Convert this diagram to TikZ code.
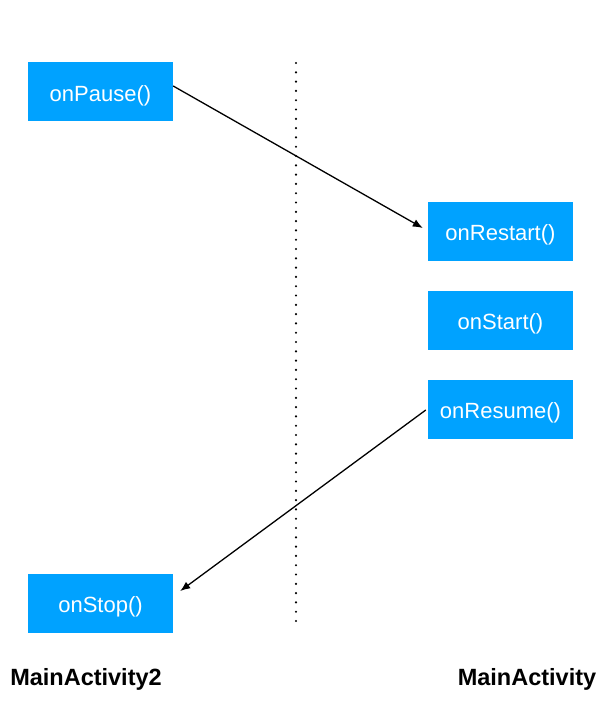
\documentclass[tikz,border=0pt]{standalone}
\usepackage{fontspec}
\setmainfont{Liberation Sans}
\usetikzlibrary{arrows.meta}
\definecolor{callblue}{HTML}{00A2FF}
\begin{document}
\begin{tikzpicture}[
    x=1pt, y=-1pt,
    call/.style={fill=callblue, text=white, minimum width=145pt, minimum height=59pt, inner sep=0pt, text height=21pt, text depth=2pt, font=\fontsize{22}{26}\selectfont},
    actlabel/.style={font=\fontsize{23.5}{28}\selectfont\bfseries},
    flow/.style={line width=1.3pt, -{Latex[length=10pt,width=8pt]}},
]
    \useasboundingbox (0,0) rectangle (613,705);

    % Lifecycle calls
    \node[call] (pause)   at (100.5, 91.5) {onPause()};
    \node[call] (restart) at (500.5, 231)  {onRestart()};
    \node[call] (start)   at (500.5, 320)  {onStart()};
    \node[call] (resume)  at (500.5, 409)  {onResume()};
    \node[call] (stop)    at (100.5, 603)  {onStop()};

    % Activity labels
    \node[actlabel] (act2) at (86, 679)  {MainActivity2};
    \node[actlabel] (act1) at (527, 679) {MainActivity};

    % Divider
    \coordinate (divtop) at (296, 63);
    \coordinate (divbot) at (296, 622);
    \draw[line width=2.4pt, line cap=round, dash pattern=on 0pt off 9.3pt] (divtop) -- (divbot);

    % Transitions
    \draw[flow] ([yshift=5.5pt]pause.east) -- ([xshift=-5pt,yshift=3pt]restart.west);
    \draw[flow] ([xshift=-2pt,yshift=-1pt]resume.west) -- ([xshift=7pt,yshift=12pt]stop.east);
\end{tikzpicture}
\end{document}
